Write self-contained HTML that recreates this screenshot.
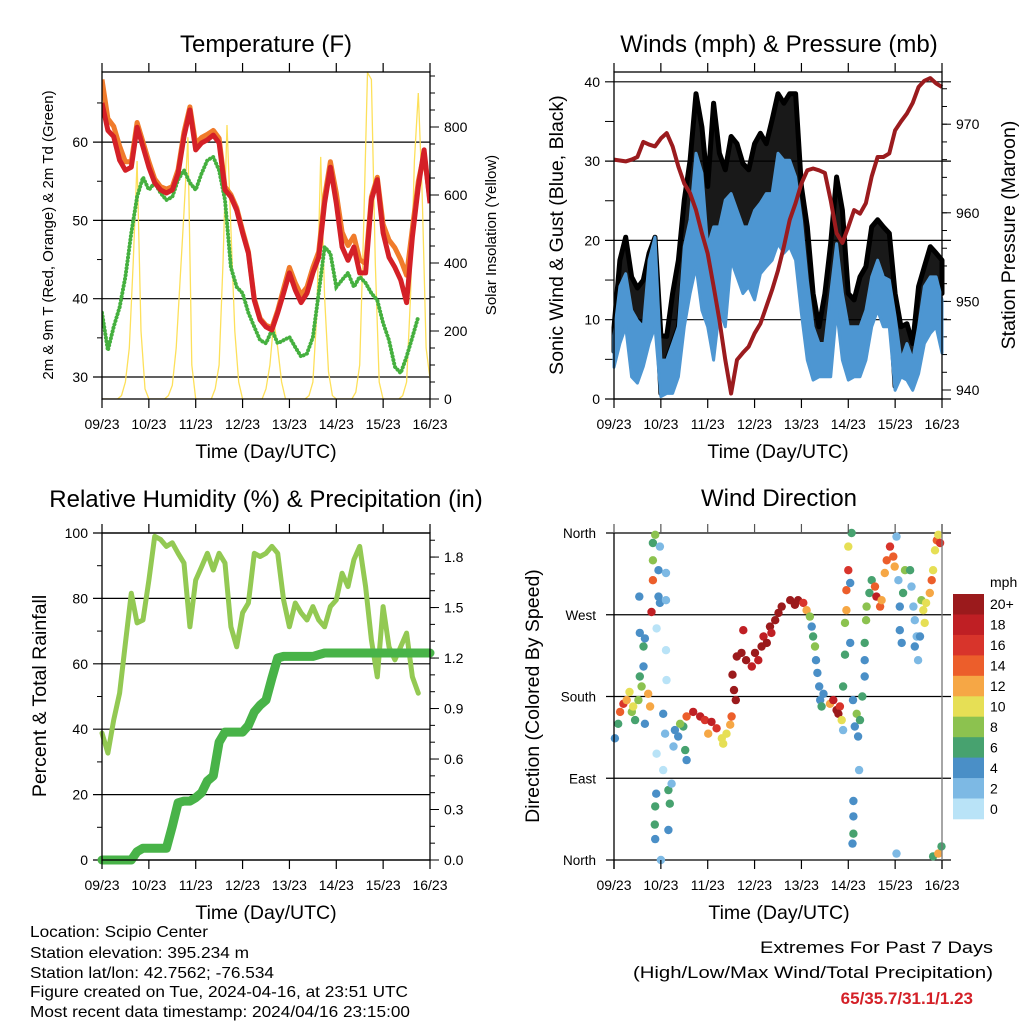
<!DOCTYPE html>
<html><head><meta charset="utf-8"><style>
html,body{margin:0;padding:0;background:#fff;}
svg{display:block;font-family:"Liberation Sans",sans-serif;}
</style></head><body>
<svg id="chart" width="1024" height="1024" viewBox="0 0 1024 1024" xmlns="http://www.w3.org/2000/svg">
<rect x="0" y="0" width="1024" height="1024" fill="#fff"/>
<g id="layer"></g>
<g font-size="16" fill="#000">
<text x="30" y="937" textLength="178" lengthAdjust="spacingAndGlyphs">Location: Scipio Center</text>
<text x="30" y="958" textLength="219" lengthAdjust="spacingAndGlyphs">Station elevation: 395.234 m</text>
<text x="30" y="978" textLength="244" lengthAdjust="spacingAndGlyphs">Station lat/lon: 42.7562; -76.534</text>
<text x="30" y="997" textLength="378" lengthAdjust="spacingAndGlyphs">Figure created on Tue, 2024-04-16, at 23:51 UTC</text>
<text x="30" y="1017" textLength="380" lengthAdjust="spacingAndGlyphs">Most recent data timestamp: 2024/04/16 23:15:00</text>
</g>
<g font-size="17">
<text x="993" y="953" text-anchor="end" textLength="233" lengthAdjust="spacingAndGlyphs">Extremes For Past 7 Days</text>
<text x="993" y="978" text-anchor="end" textLength="360" lengthAdjust="spacingAndGlyphs">(High/Low/Max Wind/Total Precipitation)</text>
<text x="973" y="1004" text-anchor="end" fill="#d42027" font-weight="bold">65/35.7/31.1/1.23</text>
</g>
</svg>
<script>
// ---------- data (3-hour steps, day 0..7) ----------
const dayTicks = ["09/23","10/23","11/23","12/23","13/23","14/23","15/23","16/23"];
const tempRed = [65,61.5,60.7,57.7,56.4,56.8,61.9,59.4,56.8,54.8,53.9,53.5,53.9,56,60.7,64.1,59,59.9,60.3,60.9,59.9,53.9,53,51.3,48.4,45.8,39.8,37.3,36.4,36,38.2,40.7,43.3,41.1,39.5,40.7,43.3,45.3,52.2,56.8,52.2,46.6,44.9,46.6,43.3,43.3,52.6,55.2,48.4,45.3,44,42.4,39.5,47.9,54.3,59,52.2];
const tempOrange = [68,63,62,59.5,57.5,57.5,62.5,60,57.5,55.3,54.3,54,54.3,56.5,61.3,64.5,59.8,60.6,61,61.5,60.5,54.3,53.3,51.6,48.7,46,40,37.5,36.6,36.3,38.5,41.3,44,42,40.5,41.5,44,46,53,57.5,53.5,48.5,46.8,48,45,44.5,53,55.5,49.5,47.5,46.5,45,43,49,55,58.5,52.5];
const dewGreen = [38.2,33.4,36.4,38.9,42.8,48.4,53,55.5,53.9,54.8,53.5,52.6,53,55.2,56.4,54.8,53.9,56,57.7,58.1,56.4,52.6,44,41.5,40.7,38.2,36.4,34.7,34.3,36,34.3,34.7,35.1,33.8,32.6,33,35.1,40.7,46.6,45.8,41.5,42.4,43.3,41.5,42.8,42,40.7,39.8,36.9,34.7,31.3,30.5,32.6,35.1,37.7,null,null];
// solar, 2-hour steps
const solar = [0,0,0,0,0,10,50,150,400,700,200,30,
 0,0,0,0,0,10,40,150,350,550,770,100,
 0,0,0,0,0,30,100,400,806,500,200,50,
 0,0,0,0,0,0,30,100,230,150,50,0,
 0,0,0,0,0,10,50,250,712,300,80,10,
 0,0,0,0,0,20,100,500,960,940,400,50,
 0,0,0,0,0,10,50,300,700,900,600,150,60];
const tempTicksL = [30,40,50,60];
const solarTicks = [0,200,400,600,800];

const gustHi = [9,17.5,20.4,15.4,14,15,18.4,20.4,8,7.9,13.3,17.5,25.1,30.1,38.5,34.3,26.8,37.3,31,28.9,33.1,32.2,29.7,28.9,32.2,33.5,32.2,35.2,38.5,37.3,38.5,38.5,26.8,21.7,13.3,9.1,13.3,19.6,28,23.8,13.3,12.5,15.4,16.7,21.7,22.6,21.7,20.9,13.3,9.1,9.5,7,14.2,16.7,19.2,18.4,17.5];
const gustLo = [6,11.2,13.3,9.1,9.9,9.1,13.3,15.4,0.7,4.9,7,9.1,17.5,19.2,21.7,22.6,15,15.4,16.7,17.5,17.5,20,19.6,19.2,17.5,21.7,19.6,25.1,25.9,25.9,28,25.9,15,9.1,4.9,4.1,4.9,9.1,13.3,11.2,4.9,4.9,7,5.8,13.7,15,15.4,13.3,1.6,4.9,4.9,1.6,4.9,9.1,11.2,13.3,13.3];
const windHi = [8,14.2,15.8,11.2,9.9,9.1,17.5,20.4,4.9,4.9,7,9.1,19.2,22.6,31,28.5,19.2,21.7,21.7,25.1,25.9,23.8,21.7,21.7,23.8,24.7,25.9,25.9,31,30.1,30.1,28,22.6,15,9.1,7,7,13.3,19.6,13.3,9.1,9.1,9.1,11.2,15.4,17.5,15.4,15,10.4,4.9,7,4.9,9.1,14.2,15.4,15.4,12.5];
const windLo = [4,7,9.1,2.8,2,4.1,7,9.1,0.3,0.7,0.7,2.8,9.1,13.3,16.7,11.2,9.1,4.9,11.2,9.1,17.5,15.4,13.3,14.2,12.5,15.8,16.7,17.5,19.6,18.4,19.2,17.5,10.8,4.9,2.4,2.8,2.8,2.8,11.2,4.9,2.4,2.8,2.8,4.9,9.1,11.2,9.1,9.1,1.1,2.8,2.4,1.1,3.2,7,8.3,9.1,5.8];
const pressure = [966,965.9,965.8,966,966.3,968,967.7,967.5,968.4,969,967.5,965.2,963.3,962.2,960.3,957.7,955.4,951.7,947.9,943.4,939.6,943.4,944.2,944.9,946.4,947.5,949.4,951.3,953.5,956.2,959.2,961.1,963.3,964.8,965,964.8,964.5,961.4,957.7,956.6,958.4,960.3,959.9,961.1,964.1,966.3,966.3,966.7,969.3,970.3,971.2,972.4,974.2,974.9,975.2,974.6,974.2];
const windTicks = [0,10,20,30,40];
const pressTicks = [940,950,960,970];

const rhValues = [38.8,32.7,42.8,51,66.3,81.6,72.5,73.4,85.6,99,98,95.9,97,93.8,90.8,71.3,85.6,89.7,93.8,88.7,93.8,90.8,71.3,65.2,75.6,78.6,93.8,92.8,93.8,95.9,93.8,79.5,71.3,78.6,75.6,73.4,77.5,73.4,71.3,77.5,79.5,87.7,83.6,91.8,95.9,83.6,67.3,56,77.5,65.2,61.2,65.2,69.4,56,51,null,null];
const precipValues = [0,0,0,0,0,0,0.05,0.07,0.07,0.07,0.07,0.07,0.2,0.34,0.35,0.35,0.37,0.4,0.47,0.5,0.7,0.76,0.76,0.76,0.76,0.8,0.88,0.92,0.95,1.08,1.2,1.21,1.21,1.21,1.21,1.21,1.21,1.22,1.23,1.23,1.23,1.23,1.23,1.23,1.23,1.23,1.23,1.23,1.23,1.23,1.23,1.23,1.23,1.23,1.23,1.23,1.23];
const rhTicks = [0,20,40,60,80,100];
const precipTicks = ["0.0","0.3","0.6","0.9","1.2","1.5","1.8"];

const dirTimes = [.02,.09,.13,.2,.27,.33,.38,.41,.45,.52,.55,.59,.63,.63,.55,.66,.54,.73,.77,.66,.83,.83,.83,.88,.95,.95,.98,.98,.80,.91,1.11,1.11,1.11,1.12,1.05,1.09,.91,1.05,.90,.88,.87,.88,1.16,1.19,1.16,1.23,1.27,1.30,1.37,1.48,1.52,1.55,1.41,1.0,
1.55,1.69,1.84,1.94,2.08,2.19,2.01,2.30,2.40,2.33,2.48,2.51,
2.53,2.56,2.6,2.62,2.72,2.76,2.82,2.94,3.01,3.08,3.15,3.19,3.26,3.33,3.36,3.44,3.51,3.58,3.76,3.86,3.93,4.04,4.11,4.18,4.22,4.25,4.29,4.31,4.34,4.38,4.40,4.43,4.47,4.61,4.68,4.75,4.82,4.79,4.86,4.89,
5.0,5.0,4.96,4.96,4.93,5.04,4.93,5.07,5.04,4.89,5.10,5.18,5.14,5.21,5.25,5.30,5.23,5.11,5.11,5.11,5.09,5.35,5.35,5.35,5.38,5.39,5.45,5.50,5.57,5.6,5.68,5.71,5.78,5.82,5.89,5.96,5.99,6.03,6.07,6.10,6.10,6.14,6.21,6.32,6.17,6.35,6.39,6.42,6.46,6.49,6.42,6.53,6.56,6.60,6.63,6.66,6.74,6.78,6.81,6.85,6.89,6.92,6.96,6.03,6.81,6.92,6.99];
const dirValues = [134,150,163,172,176,185,163,169,154,176,202,191,213,235,250,244,290,183,169,150,349,330,308,358,319,290,345,283,273,255,316,286,231,198,161,139,117,99,73,59,39,23,77,62,33,84,125,143,136,147,121,110,150,0,
158,163,158,154,152,145,139,134,139,128,149,158,
204,187,176,224,228,253,220,213,228,220,235,246,239,257,250,264,272,279,286,281,286,283,275,268,257,246,235,220,206,191,176,169,183,172,176,165,169,161,154,143,
345,319,297,275,261,239,226,360,305,191,176,161,147,136,154,180,99,65,48,29,18,202,220,239,264,279,294,308,301,290,279,286,316,330,345,334,323,356,308,279,253,239,319,319,294,301,279,264,246,220,235,246,286,275,261,283,294,308,319,341,352,358,349,7,4,7,15];
const dirSpeeds = [4,6,14,16,12,10,8,10,6,8,6,8,4,6,4,4,4,12,12,4,6,8,14,8,4,4,2,4,18,0,2,2,0,0,4,2,0,0,4,6,6,4,6,6,4,2,2,4,4,6,6,4,8,2,
14,18,18,16,18,16,12,10,10,10,12,14,
20,20,20,20,20,18,20,18,20,18,20,18,20,20,18,20,20,20,20,20,20,16,12,8,4,6,8,4,4,4,4,6,4,12,18,20,16,20,10,2,
10,16,14,12,8,4,6,6,4,6,4,8,4,4,6,6,2,4,4,6,4,4,4,6,8,8,6,6,14,18,14,12,12,14,16,14,12,2,2,4,4,4,8,6,6,2,2,2,2,2,4,4,8,10,10,10,12,14,10,10,14,10,16,2,6,12,6];
const speedLabels = ["20+","18","16","14","12","10","8","6","4","2","0"];
const speedColors = ["#9b1a1c","#bf1f24","#d8342b","#ec5e2b","#f6a745","#e6df55","#8cc24f","#47a26f","#4a8fc7","#7db9e4","#b9e3f7"];
const dirTicks = ["North","East","South","West","North"];

// ---------- helpers ----------
const NS = "http://www.w3.org/2000/svg";
const layer = document.getElementById("layer");
function mk(tag, attrs, parent) {
  const e = document.createElementNS(NS, tag);
  for (const k in attrs) e.setAttribute(k, attrs[k]);
  (parent || layer).appendChild(e);
  return e;
}
function txt(x, y, s, size, anchor, parent, rot) {
  const t = mk("text", {x: x, y: y, "font-size": size, "text-anchor": anchor || "middle"}, parent);
  if (rot) t.setAttribute("transform", "rotate(-90 " + x + " " + y + ")");
  t.textContent = s;
  return t;
}
function linePath(vals, step, xf, yf) {
  let d = "", pen = false;
  vals.forEach((v, i) => {
    if (v === null) { pen = false; return; }
    d += (pen ? "L" : "M") + xf(i * step).toFixed(1) + "," + yf(v).toFixed(1);
    pen = true;
  });
  return d;
}
function bandPath(lo, hi, step, xf, yf) {
  let d = "";
  hi.forEach((v, i) => { d += (i ? "L" : "M") + xf(i * step).toFixed(1) + "," + yf(v).toFixed(1); });
  for (let i = lo.length - 1; i >= 0; i--) d += "L" + xf(i * step).toFixed(1) + "," + yf(lo[i]).toFixed(1);
  return d + "Z";
}
function drawXAxis(g, x0, x1, y0, y1, xf) {
  dayTicks.forEach((lab, i) => {
    const x = xf(i);
    const t1 = mk("line", {x1: x, y1: y0, x2: x, y2: y0 - 9, stroke: "#000", "stroke-width": 1.2}, g);
    
    
    const t2 = mk("line", {x1: x, y1: y1, x2: x, y2: y1 + 9, stroke: "#000", "stroke-width": 1.2}, g);
    
    
    const l = txt(x, y1 + 30, lab, 14, "middle", g);
    
    
  });
  const tt = txt((x0 + x1) / 2, y1 + 59, "Time (Day/UTC)", 19.5, "middle", g);
  
  
}
function ticksY(g, x, vals, yf, len, dir) {
  vals.forEach(v => {
    const t = mk("line", {x1: x, y1: yf(v), x2: x + dir * len, y2: yf(v), stroke: "#000", "stroke-width": 1}, g);
    
    
  });
}
function range(a, b, s) { const r = []; for (let v = a; v <= b + 1e-9; v += s) r.push(+v.toFixed(4)); return r; }

// ================= Panel 1: Temperature =================
(function () {
  const g = mk("g", {});
  
  
  const x0 = 102, x1 = 430, y0 = 72, y1 = 399;
  const xf = d => x0 + d * (x1 - x0) / 7;
  const yL = v => 377 - (v - 30) * 7.83;
  const yR = w => 399 - w * 0.34;
  tempTicksL.forEach(v => {
    const gl = mk("line", {x1: x0 - 9, y1: yL(v), x2: x1, y2: yL(v), stroke: "#000", "stroke-width": 1.2}, g);
    
    
    const l = txt(x0 - 14, yL(v) + 5, String(v), 14, "end", g);
    
    
  });
  ticksY(g, x0, [35, 45, 55, 65], yL, 5, -1);
  ticksY(g, x1, range(0, 950, 50), yR, 5, 1);
  ticksY(g, x1, solarTicks, yR, 9, 1);
  solarTicks.forEach(w => {
    const l = txt(x1 + 14, yR(w) + 5, String(w), 14, "start", g);
    
    
  });
  const clip = mk("clipPath", {id: "c1"}, g);
  mk("rect", {x: x0, y: y0, width: x1 - x0, height: y1 - y0}, clip);
  const s = mk("path", {d: linePath(solar, 1 / 12, xf, yR), fill: "none", stroke: "#fde05a", "stroke-width": 1.3, "clip-path": "url(#c1)"}, g);
  
  
  const dg = mk("path", {d: linePath(dewGreen, 0.125, xf, yL), fill: "none", stroke: "#45b03f", "stroke-width": 4, "stroke-linecap": "round", "stroke-dasharray": "0.1 3.5", "clip-path": "url(#c1)"}, g);
  
  
  const o = mk("path", {d: linePath(tempOrange, 0.125, xf, yL), fill: "none", stroke: "#f07b2b", "stroke-width": 5, "stroke-linejoin": "round", "clip-path": "url(#c1)"}, g);
  
  
  const r = mk("path", {d: linePath(tempRed, 0.125, xf, yL), fill: "none", stroke: "#d42027", "stroke-width": 5, "stroke-linejoin": "round", "clip-path": "url(#c1)"}, g);
  
  
  const b = mk("rect", {x: x0, y: y0, width: x1 - x0, height: y1 - y0, fill: "none", stroke: "#000", "stroke-width": 1.3}, g);
  
  
  drawXAxis(g, x0, x1, y0, y1, xf);
  const t = txt(266, 52, "Temperature (F)", 24, "middle", g);
  
  
  const yl = txt(53, 235, "2m & 9m T (Red, Orange) & 2m Td (Green)", 15, "middle", g, true);
  
  
  const yr = txt(496, 235, "Solar Insolation (Yellow)", 15, "middle", g, true);
  
  
})();

// ================= Panel 2: Winds & Pressure =================
(function () {
  const g = mk("g", {});
  
  
  const x0 = 614, x1 = 942, y0 = 72, y1 = 399;
  const xf = d => x0 + d * (x1 - x0) / 7;
  const yL = v => 399 - v * 7.93;
  const yR = p => 390 - (p - 940) * 8.86;
  windTicks.forEach(v => {
    const gl = mk("line", {x1: x0 - 9, y1: yL(v), x2: x1 + 9, y2: yL(v), stroke: "#000", "stroke-width": 1.2}, g);
    
    
    const l = txt(x0 - 14, yL(v) + 5, String(v), 14, "end", g);
    
    
  });
  ticksY(g, x0, [5, 15, 25, 35], yL, 9, -1);
  ticksY(g, x1, range(940, 974, 2), yR, 5, 1);
  ticksY(g, x1, pressTicks, yR, 9, 1);
  pressTicks.forEach(p => {
    const l = txt(x1 + 14, yR(p) + 5, String(p), 14, "start", g);
    
    
  });
  const clip = mk("clipPath", {id: "c2"}, g);
  mk("rect", {x: x0 - 3, y: y0, width: x1 - x0 + 6, height: y1 - y0 + 3}, clip);
  const gb = mk("path", {d: bandPath(gustLo, gustHi, 0.125, xf, yL), fill: "#000", "fill-opacity": 0.9, stroke: "#000", "stroke-width": 5, "stroke-linejoin": "round", "clip-path": "url(#c2)"}, g);
  
  
  const wb = mk("path", {d: bandPath(windLo, windHi, 0.125, xf, yL), fill: "#4d96d2", stroke: "#4d96d2", "stroke-width": 3, "stroke-linejoin": "round", "clip-path": "url(#c2)"}, g);
  
  
  const pr = mk("path", {d: linePath(pressure, 0.125, xf, yR), fill: "none", stroke: "#9b1b1e", "stroke-width": 4, "stroke-linejoin": "round", "clip-path": "url(#c2)"}, g);
  
  
  const b = mk("rect", {x: x0, y: y0, width: x1 - x0, height: y1 - y0, fill: "none", stroke: "#000", "stroke-width": 1.3}, g);
  
  
  drawXAxis(g, x0, x1, y0, y1, xf);
  const t = txt(779, 52, "Winds (mph) & Pressure (mb)", 24, "middle", g);
  
  
  const yl = txt(563, 235, "Sonic Wind & Gust (Blue, Black)", 19.5, "middle", g, true);
  
  
  const yr = txt(1015, 235, "Station Pressure (Maroon)", 19.5, "middle", g, true);
  
  
})();

// ================= Panel 3: RH & Precip =================
(function () {
  const g = mk("g", {});
  
  
  const x0 = 102, x1 = 430, y0 = 533, y1 = 860;
  const xf = d => x0 + d * (x1 - x0) / 7;
  const yL = v => 860 - v * 3.27;
  const yR = p => 860 - p * 168.3;
  rhTicks.forEach(v => {
    const gl = mk("line", {x1: x0 - 9, y1: yL(v), x2: x1, y2: yL(v), stroke: "#000", "stroke-width": 1.2}, g);
    
    
    const l = txt(x0 - 14, yL(v) + 5, String(v), 14, "end", g);
    
    
  });
  ticksY(g, x0, [10, 30, 50, 70, 90], yL, 5, -1);
  ticksY(g, x1, range(0, 1.9, 0.1), yR, 5, 1);
  precipTicks.forEach(p => {
    const y = yR(parseFloat(p));
    const t = mk("line", {x1: x1, y1: y, x2: x1 + 9, y2: y, stroke: "#000", "stroke-width": 1}, g);
    
    
    const l = txt(x1 + 14, y + 5, p, 14, "start", g);
    
    
  });
  const rh = mk("path", {d: linePath(rhValues, 0.125, xf, yL), fill: "none", stroke: "#93c953", "stroke-width": 5, "stroke-linejoin": "round", "stroke-linecap": "round"}, g);
  
  
  const pc = mk("path", {d: linePath(precipValues, 0.125, xf, yR), fill: "none", stroke: "#48b348", "stroke-width": 9, "stroke-linejoin": "round", "stroke-linecap": "round"}, g);
  
  
  const b = mk("rect", {x: x0, y: y0, width: x1 - x0, height: y1 - y0, fill: "none", stroke: "#000", "stroke-width": 1.3}, g);
  
  
  drawXAxis(g, x0, x1, y0, y1, xf);
  const t = txt(266, 507, "Relative Humidity (%) & Precipitation (in)", 24, "middle", g);
  
  
  const yl = txt(46, 696, "Percent & Total Rainfall", 19.5, "middle", g, true);
  
  
})();

// ================= Panel 4: Wind Direction =================
(function () {
  const g = mk("g", {});
  
  
  const x0 = 614, x1 = 942, y0 = 533, y1 = 860;
  const xf = d => x0 + d * (x1 - x0) / 7;
  const yf = deg => 860 - deg * (y1 - y0) / 360;
  dirTicks.forEach((lab, i) => {
    const y = yf(i * 90);
    const gl = mk("line", {x1: x0 - 8, y1: y, x2: x1 + 9, y2: y, stroke: "#000", "stroke-width": 1.2}, g);
    
    
    const l = txt(596, y + 5, lab, 13.5, "end", g);
    
    
  });
  dirTimes.forEach((d, i) => {
    const idx = Math.max(0, Math.min(10, 10 - Math.round(dirSpeeds[i] / 2)));
    const c = mk("circle", {cx: xf(d).toFixed(1), cy: yf(dirValues[i]).toFixed(1), r: 4.2, fill: speedColors[idx]}, g);
    
    
  });
  const bl = mk("line", {x1: x0, y1: y0, x2: x0, y2: y1 + 9, stroke: "#000", "stroke-width": 1.3}, g);
  
  
  const br = mk("line", {x1: x1, y1: y0 - 9, x2: x1, y2: y1 + 9, stroke: "#777", "stroke-width": 1.3}, g);
  
  
  dayTicks.forEach((lab, i) => {
    const x = xf(i);
    const t1 = mk("line", {x1: x, y1: y0, x2: x, y2: y0 - 9, stroke: "#555", "stroke-width": 1.2}, g);
    
    
    const t2 = mk("line", {x1: x, y1: y1, x2: x, y2: y1 + 9, stroke: "#000", "stroke-width": 1.2}, g);
    
    
    const l = txt(x, y1 + 30, lab, 14, "middle", g);
    
    
  });
  const tt = txt(779, 919, "Time (Day/UTC)", 19.5, "middle", g);
  
  
  const t = txt(779, 506, "Wind Direction", 24, "middle", g);
  
  
  const yl = txt(539, 696, "Direction (Colored By Speed)", 19.5, "middle", g, true);
  
  
  // colorbar
  const cb = mk("g", {}, g);
  
  
  const bh = (819 - 594) / speedLabels.length;
  speedLabels.forEach((lab, i) => {
    const r = mk("rect", {x: 953, y: (594 + i * bh).toFixed(1), width: 31, height: (bh + 0.3).toFixed(1), fill: speedColors[i]}, cb);
    
    
    const l = txt(990, 594 + i * bh + bh / 2 + 5, lab, 14, "start", cb);
    
    
  });
  const u = txt(990, 587, "mph", 14, "start", cb);
  
  
})();
</script>
</body></html>
